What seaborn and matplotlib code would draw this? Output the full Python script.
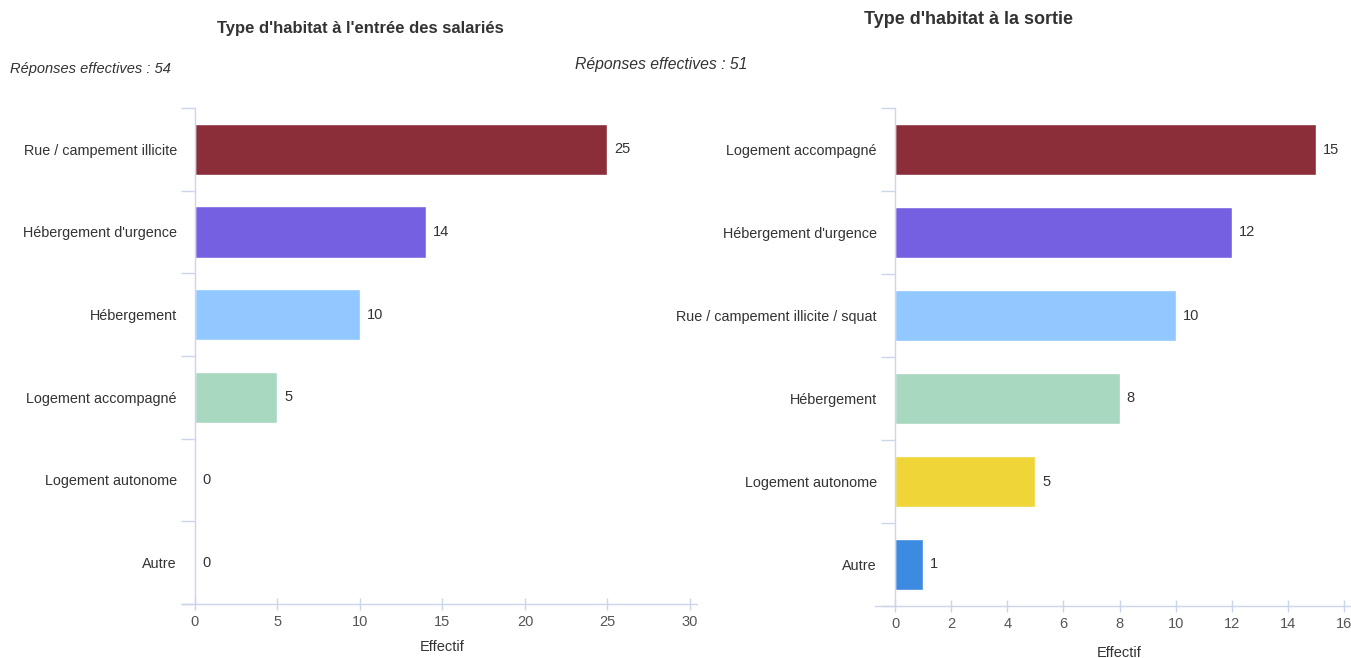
import pandas as pd
import seaborn as sns
import matplotlib.pyplot as plt

# data
entree_labels = ["Rue / campement illicite", "Hébergement d'urgence", "Hébergement",
                 "Logement accompagné", "Logement autonome", "Autre"]
entree_values = [25, 14, 10, 5, 0, 0]
entree_colors = ["#8b2e3a", "#7460e0", "#91c8ff", "#a8d8c0", "#efd538", "#3c8be0"]

sortie_labels = ["Logement accompagné", "Hébergement d'urgence", "Rue / campement illicite / squat",
                 "Hébergement", "Logement autonome", "Autre"]
sortie_values = [15, 12, 10, 8, 5, 1]
sortie_colors = ["#8b2e3a", "#7460e0", "#91c8ff", "#a8d8c0", "#efd538", "#3c8be0"]

entree_ticks = [0, 5, 10, 15, 20, 25, 30]
sortie_ticks = [0, 2, 4, 6, 8, 10, 12, 14, 16]

AXIS_COLOR = "#ccd6eb"
TEXT_COLOR = "#333333"

sns.set_style("white")
plt.rcParams["font.family"] = ["Liberation Sans", "DejaVu Sans"]

fig = plt.figure(figsize=(13.51, 6.58), dpi=100)
W, H = 1351, 658


def draw_panel(rect, labels, values, colors, ticks, xmax, label_pad, spine_ext, xlabel_pad):
    ax = fig.add_axes(rect)
    df = pd.DataFrame({"cat": labels, "val": values})
    sns.barplot(data=df, y="cat", x="val", hue="cat", palette=colors,
                order=labels, hue_order=labels, orient="h", width=0.62,
                legend=False, ax=ax, saturation=1)
    for cont in ax.containers:
        ax.bar_label(cont, padding=5, fontsize=10.5, color=TEXT_COLOR)
    ax.set_xlim(0, xmax)
    ax.set_ylim(len(labels) - 0.5, -0.5)
    ax.set_xticks(ticks)
    ax.set_yticks(range(len(labels)))
    ax.set_yticklabels(labels)
    ax.set_yticks([i - 0.5 for i in range(len(labels) + 1)], minor=True)
    ax.tick_params(axis="y", which="major", left=True, length=0, pad=label_pad,
                   labelsize=10.4, labelcolor=TEXT_COLOR)
    ax.tick_params(axis="y", which="minor", left=True, length=10, width=1, color=AXIS_COLOR)
    ax.tick_params(axis="x", which="major", bottom=True, length=8, width=1, color=AXIS_COLOR,
                   labelsize=10.5, labelcolor="#555555", pad=4, direction="inout")
    ax.set_ylabel("")
    ax.set_xlabel("Effectif", fontsize=10.5, color=TEXT_COLOR, labelpad=xlabel_pad)
    for side in ["top", "right"]:
        ax.spines[side].set_visible(False)
    for side in ["left", "bottom"]:
        ax.spines[side].set_color(AXIS_COLOR)
        ax.spines[side].set_linewidth(1)
    ax.spines["bottom"].set_bounds(-spine_ext, xmax * 1.015)
    ax.grid(False)
    return ax


ax1 = draw_panel([195 / W, (H - 604) / H, 495 / W, 496 / H],
                 entree_labels, entree_values, entree_colors, entree_ticks, 30, 13, 0.8, 8)
ax2 = draw_panel([895 / W, (H - 606) / H, 449 / W, 498 / H],
                 sortie_labels, sortie_values, sortie_colors, sortie_ticks, 16, 13, 0.7, 11)

fig.text(360 / W, 1 - 29 / H, "Type d'habitat à l'entrée des salariés",
         ha="center", va="center", fontsize=12, fontweight="bold", color=TEXT_COLOR)
fig.text(968 / W, 1 - 20 / H, "Type d'habitat à la sortie",
         ha="center", va="center", fontsize=13, fontweight="bold", color=TEXT_COLOR)
fig.text(10 / W, 1 - 69 / H, "Réponses effectives : 54",
         ha="left", va="center", fontsize=10.5, style="italic", color=TEXT_COLOR)
fig.text(575 / W, 1 - 65 / H, "Réponses effectives : 51",
         ha="left", va="center", fontsize=11.3, style="italic", color=TEXT_COLOR)

fig.savefig("out.png", dpi=100)
plt.close(fig)
